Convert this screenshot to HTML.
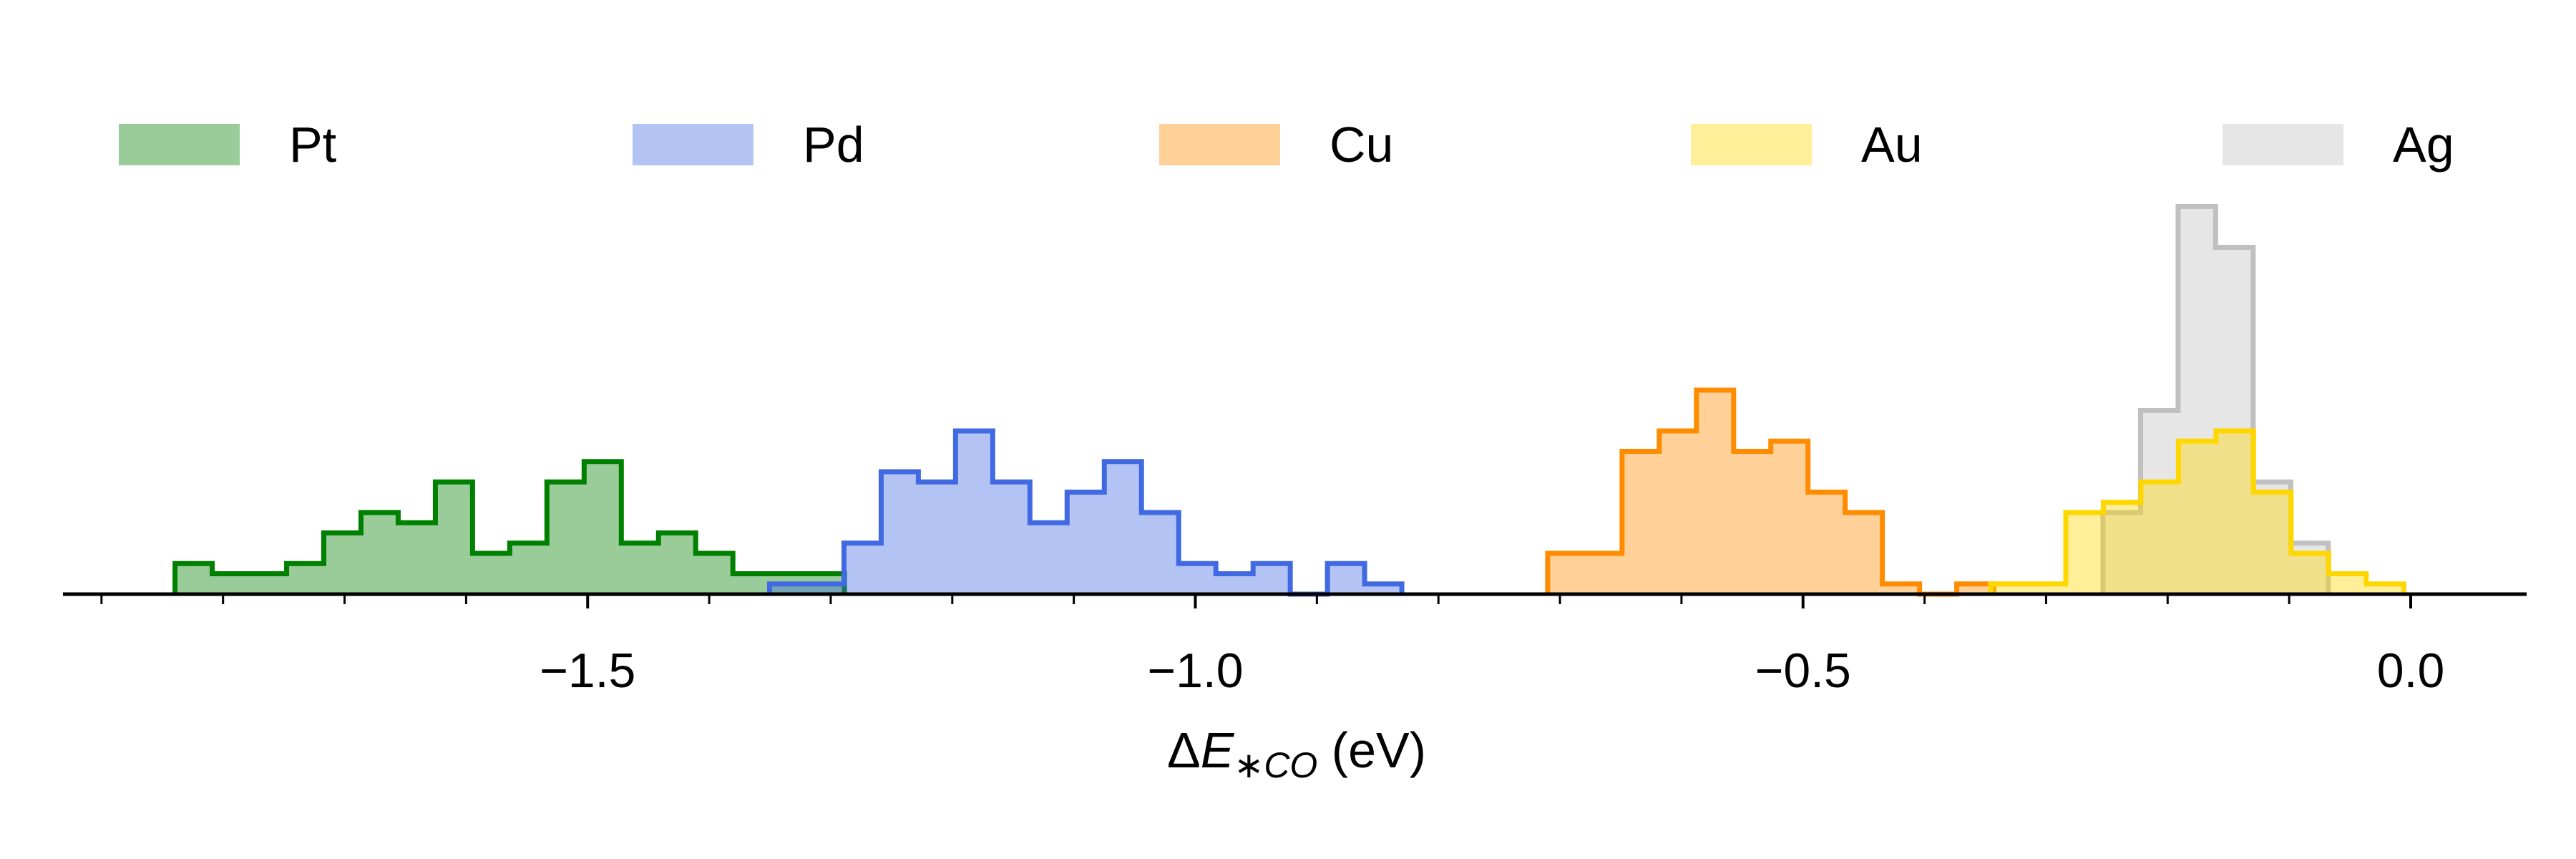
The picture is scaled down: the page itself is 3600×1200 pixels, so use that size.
<!DOCTYPE html>
<html><head><meta charset="utf-8"><style>
html,body{margin:0;padding:0;background:#fff;}
svg{display:block;font-family:"Liberation Sans","DejaVu Sans",sans-serif;}
</style></head><body>
<svg id="chart" width="3600" height="1200" viewBox="0 0 3600 1200" xmlns="http://www.w3.org/2000/svg">
<g id="series"></g>
<g id="axis"></g>
<g id="legend"></g>
<text x="1812" y="1072" font-size="70" text-anchor="middle">Δ<tspan font-style="italic">E</tspan><tspan font-style="italic" font-size="50" dy="14">∗CO</tspan><tspan dy="-14"> (eV)</tspan></text>
</svg>
<script>
const metals = ["Pt","Pd","Cu","Au","Ag"];
const binStarts = [-1.8395,-1.3503,-0.7101,-0.3456,-0.2532];
const binWidths = [0.0306,0.0306,0.0306,0.0309,0.0309];
const countsPt = [3,2,2,3,6,8,7,11,4,5,11,13,5,6,4,2,2,2];
const countsPd = [1,1,5,12,11,16,11,7,10,13,8,3,2,3,0,3,1];
const countsCu = [4,4,14,16,20,14,15,10,8,1,0,1];
const countsAu = [1,1,8,9,11,15,16,10,4,2,1];
const countsAg = [8,18,38,34,11,5];
const majorTicks = [-1.5,-1.0,-0.5,0.0];
const majorLabels = ["\u22121.5","\u22121.0","\u22120.5","0.0"];
const minorTicks = [-1.9,-1.8,-1.7,-1.6,-1.4,-1.3,-1.2,-1.1,-0.9,-0.8,-0.7,-0.6,-0.4,-0.3,-0.2,-0.1];

const NS="http://www.w3.org/2000/svg";
const X0=3369, PXU=1698.5, BASE=830, UNIT=14.25;
const xs=v=>X0+v*PXU;
const ys=c=>BASE-c*UNIT;
const colors={Pt:"#008000",Pd:"#4169e1",Cu:"#ff8c00",Au:"#ffd700",Ag:"#c0c0c0"};
const countsBy={Pt:countsPt,Pd:countsPd,Cu:countsCu,Au:countsAu,Ag:countsAg};
const drawOrder=["Pt","Pd","Cu","Ag","Au"];
const gS=document.getElementById('series');
function mk(t,a){const e=document.createElementNS(NS,t);for(const k in a)e.setAttribute(k,a[k]);return e;}
drawOrder.forEach(m=>{
  const i=metals.indexOf(m), c=countsBy[m], s=binStarts[i], w=binWidths[i];
  let d="M"+xs(s)+","+ys(0);
  for(let k=0;k<c.length;k++){
    d+=" L"+xs(s+k*w)+","+ys(c[k])+" L"+xs(s+(k+1)*w)+","+ys(c[k]);
  }
  d+=" L"+xs(s+c.length*w)+","+ys(0);
  const f=mk('path',{d:d+" Z",fill:colors[m],'fill-opacity':0.4,stroke:'none'});
  
  
  gS.appendChild(f);
  const l=mk('path',{d:d,fill:'none',stroke:colors[m],'stroke-width':7,'stroke-linejoin':'miter'});
  
  
  gS.appendChild(l);
});
const gA=document.getElementById('axis');
const sp=mk('line',{x1:88,x2:3531,y1:BASE,y2:BASE,stroke:'#000','stroke-width':5});


gA.appendChild(sp);
majorTicks.forEach((v,i)=>{
  const t=mk('line',{x1:xs(v),x2:xs(v),y1:BASE,y2:BASE+20,stroke:'#000','stroke-width':4});
  
  
  gA.appendChild(t);
  const tx=mk('text',{x:xs(v),y:BASE+130,'font-size':68,'text-anchor':'middle',fill:'#000'});
  tx.textContent=majorLabels[i];
  
  
  gA.appendChild(tx);
});
minorTicks.forEach(v=>{
  const t=mk('line',{x1:xs(v),x2:xs(v),y1:BASE,y2:BASE+14,stroke:'#000','stroke-width':3});
  
  
  gA.appendChild(t);
});
const gL=document.getElementById('legend');
const patchX=[166,884,1620,2363,3106];
metals.forEach((m,i)=>{
  const g=mk('g',{});
  
  
  const r=mk('rect',{x:patchX[i],y:173,width:169,height:58,fill:colors[m],'fill-opacity':0.4});
  
  
  const t=mk('text',{x:patchX[i]+238,y:226,'font-size':70,fill:'#000'});
  t.textContent=m;
  
  
  g.appendChild(r);g.appendChild(t);gL.appendChild(g);
});
</script>
</body></html>
